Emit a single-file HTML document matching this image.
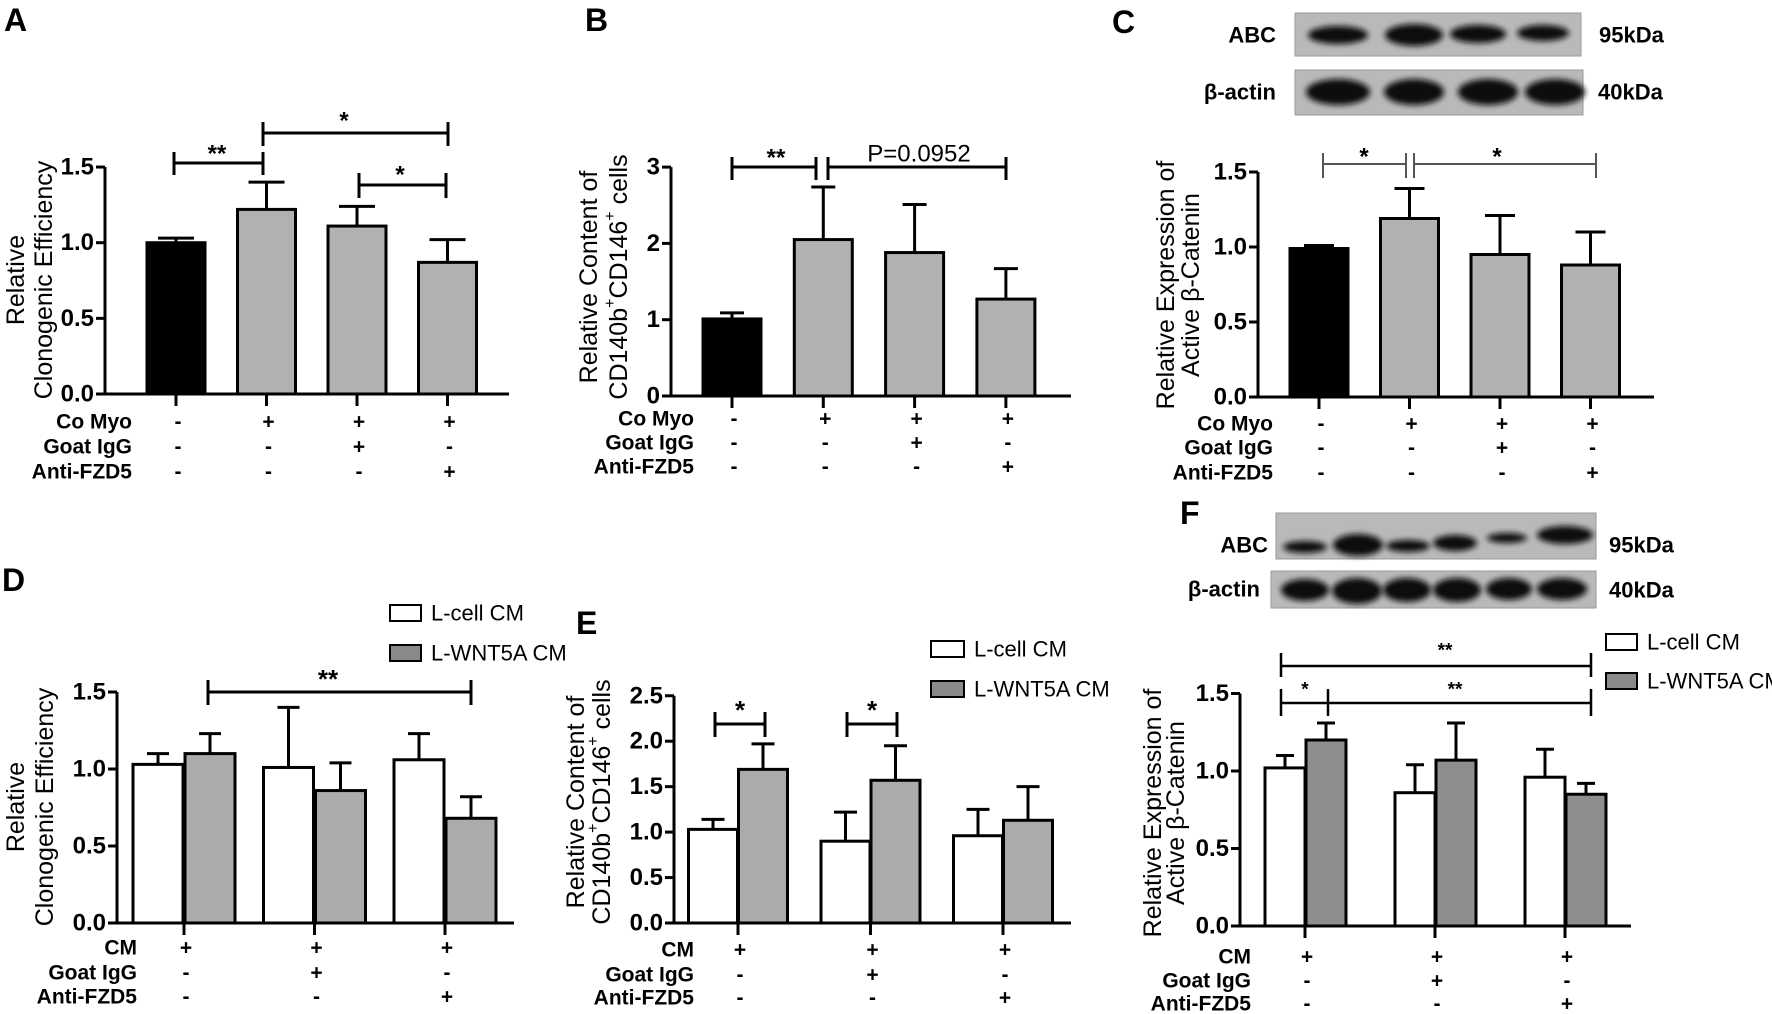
<!DOCTYPE html>
<html><head><meta charset="utf-8"><style>
html,body{margin:0;padding:0;background:#fff;}
svg{display:block;font-family:"Liberation Sans",Arial,sans-serif;}
.tk{font-weight:bold;font-size:24px;}
.rl{font-weight:bold;font-size:21px;font-family:"Liberation Sans Narrow","Liberation Sans",sans-serif;}
.yt{font-size:25px;font-weight:500;}
.pl{font-weight:bold;font-size:32px;}
</style></head><body>
<svg id="fig" width="1772" height="1014" viewBox="0 0 1772 1014" xmlns="http://www.w3.org/2000/svg">
<defs><filter id="blur" x="-20%" y="-50%" width="140%" height="200%"><feGaussianBlur stdDeviation="3"/></filter></defs>
</svg>
<script>
// ---- data ----
const catsABC = ['ctrl','coMyo','coMyoIgG','coMyoAnti'];
const aVals = [1.0, 1.22, 1.11, 0.87];
const aErrs = [1.03, 1.40, 1.24, 1.02];
const bVals = [1.01, 2.05, 1.88, 1.27];
const bErrs = [1.09, 2.74, 2.51, 1.67];
const cVals = [0.99, 1.19, 0.95, 0.88];
const cErrs = [1.01, 1.39, 1.21, 1.10];
const catsDEF = ['cm','cmIgG','cmAnti'];
const dLcell = [1.03, 1.01, 1.06];
const dLcellErr = [1.10, 1.40, 1.23];
const dWnt = [1.10, 0.86, 0.68];
const dWntErr = [1.23, 1.04, 0.82];
const eLcell = [1.03, 0.90, 0.96];
const eLcellErr = [1.14, 1.22, 1.25];
const eWnt = [1.69, 1.57, 1.13];
const eWntErr = [1.97, 1.95, 1.50];
const fLcell = [1.02, 0.86, 0.96];
const fLcellErr = [1.10, 1.04, 1.14];
const fWnt = [1.20, 1.07, 0.85];
const fWntErr = [1.31, 1.31, 0.92];
const ticksA = ['0.0','0.5','1.0','1.5'];
const ticksB = ['0','1','2','3'];
const ticksE = ['0.0','0.5','1.0','1.5','2.0','2.5'];
const rowsABC = [['Co Myo',['-','+','+','+']],['Goat IgG',['-','-','+','-']],['Anti-FZD5',['-','-','-','+']]];
const rowsDEF = [['CM',['+','+','+']],['Goat IgG',['-','+','-']],['Anti-FZD5',['-','-','+']]];

const svg = document.getElementById('fig');
const NS = 'http://www.w3.org/2000/svg';
function mk(tag, attrs, parent){const e=document.createElementNS(NS,tag);for(const k in attrs)e.setAttribute(k,attrs[k]);(parent||svg).appendChild(e);return e;}
function txt(s, attrs, parent){const e=mk('text',attrs,parent);e.textContent=s;return e;}

function panel(p){
  const g = mk('g',{});
  
  
  const y = v => p.y0 - v*p.unit;
  const x = i => p.x0 + i*p.step;
  p.series.forEach((s,si)=>{
    s.vals.forEach((v,i)=>{
      const cx = x(i) + s.off;
      const col = s.colors ? s.colors[i] : s.color;
      const r = mk('rect',{x:cx-p.bw/2,y:y(v),width:p.bw,height:y(0)-y(v),fill:col,stroke:'#000','stroke-width':3},g);
      
      
      const e = mk('path',{d:`M${cx} ${y(v)}V${y(s.errs[i])}M${cx-p.cap/2} ${y(s.errs[i])}H${cx+p.cap/2}`,stroke:'#000','stroke-width':3,fill:'none'},g);
      
      
    });
  });
  const ya = mk('line',{x1:p.ax,y1:y(0)+1.5,x2:p.ax,y2:y(p.tmax),stroke:'#000','stroke-width':3},g);
  
  
  const xa = mk('line',{x1:p.ax-8,y1:y(0),x2:p.xend,y2:y(0),stroke:'#000','stroke-width':3},g);
  
  
  p.ticks.forEach((t,i)=>{
    const v = i*p.tstep;
    mk('line',{x1:p.ax-9,y1:y(v),x2:p.ax,y2:y(v),stroke:'#000','stroke-width':3},g);
    const tl = txt(t,{x:p.ax-11,y:y(v),'text-anchor':'end','dominant-baseline':'central',class:'tk'},g);
    
    
  });
  p.cats.forEach((c,i)=>{
    mk('line',{x1:x(i),y1:y(0),x2:x(i),y2:y(0)+12,stroke:'#000','stroke-width':3},g);
  });
  p.rows.forEach((r,ri)=>{
    const ry = p.rowY[ri];
    const rl = txt(r[0],{x:p.rowX,y:ry,'text-anchor':'end','dominant-baseline':'central',class:'rl'},g);
    
    
    r[1].forEach((s,i)=>{
      txt(s,{x:x(i)+2,y:ry,'text-anchor':'middle','dominant-baseline':'central',class:'rl'},g);
    });
  });
  const tg = mk('g',{transform:`translate(${p.tx[0]},${p.ty}) rotate(-90)`},g);
  
  
  p.title.forEach((line,li)=>{
    const t = mk('text',{x:0,y:p.tx[li]-p.tx[0],'text-anchor':'middle','dominant-baseline':'central',class:'yt'},tg);
    line.forEach(part=>{
      const ts = mk('tspan',part[1]?{'font-size':16,'baseline-shift':'super'}:{},t);
      ts.textContent = part[0];
    });
  });
  (p.br||[]).forEach(b=>{
    const sw = b.sw||3, col = b.col||'#000';
    const bp = mk('path',{d:`M${b.x1} ${b.t}V${b.b}M${b.x2} ${b.t}V${b.b}M${b.x1} ${b.y}H${b.x2}`+(b.mid?`M${b.mid} ${b.t}V${b.b}`:''),stroke:col,'stroke-width':sw,fill:'none'},g);
    
    
    b.labels.forEach(l=>{
      const lt = txt(l[0],{x:l[1],y:l[2],'text-anchor':'middle','dominant-baseline':'central','font-size':l[3]||24,'font-weight':l[4]||'bold'},g);
      
      
    });
  });
  if(p.leg){
    p.leg.forEach(L=>{
      const lr = mk('rect',{x:L.x,y:L.y-8,width:L.w,height:16,fill:L.fill,stroke:'#000','stroke-width':2},g);
      
      
      const lt = txt(L.t,{x:L.x+L.w+10,y:L.y,'dominant-baseline':'central','font-size':22,'font-family':'"Liberation Sans Narrow","Liberation Sans",sans-serif'},g);
      
      
    });
  }
  const pl = txt(p.letter,{x:p.lx,y:p.ly,'dominant-baseline':'central',class:'pl'},g);
  
  
}

const GRAY='#b1b1b1', DG='#8e8e8e', LG='#ababab';
const cdTitle = [[['Relative Content of',0]],[['CD140b',0],['+',1],['CD146',0],['+',1],[' cells',0]]];
const betaTitle = [[['Relative Expression of',0]],[['Active β-Catenin',0]]];
const cloTitle = [[['Relative',0]],[['Clonogenic Efficiency',0]]];

panel({name:'panel-a',letter:'A',lx:4,ly:20,cats:catsABC,x0:176,step:90.5,bw:58,cap:36,ax:105,xend:509,y0:394,unit:151.3,ticks:ticksA,tstep:0.5,tmax:1.5,
  series:[{key:'main',vals:aVals,errs:aErrs,off:0,colors:['#000',GRAY,GRAY,GRAY]}],
  rows:rowsABC,rowY:[422,447,472],rowX:132,title:cloTitle,tx:[16,44],ty:280,
  br:[{x1:174,x2:263,y:163,t:152,b:175,labels:[['**',217,154]]},
      {x1:263,x2:448,y:133,t:122,b:146,labels:[['*',344,121]]},
      {x1:359,x2:446,y:185,t:173,b:198,labels:[['*',400,175]]}]});

panel({name:'panel-b',letter:'B',lx:585,ly:20,cats:catsABC,x0:732,step:91.3,bw:58,cap:24,ax:671,xend:1071,y0:396,unit:76.3,ticks:ticksB,tstep:1,tmax:3,
  series:[{key:'main',vals:bVals,errs:bErrs,off:0,colors:['#000',GRAY,GRAY,GRAY]}],
  rows:rowsABC,rowY:[419,443,467],rowX:694,title:cdTitle,tx:[589,619],ty:277,
  br:[{x1:732,x2:816,y:167,t:157,b:180,labels:[['**',776,158]]},
      {x1:828,x2:1006,y:167,t:157,b:180,labels:[['P=0.0952',919,154,24,'normal']]}]});

panel({name:'panel-c',letter:'C',lx:1112,ly:22,cats:catsABC,x0:1319,step:90.5,bw:58,cap:30,ax:1258,xend:1654,y0:397,unit:150,ticks:ticksA,tstep:0.5,tmax:1.5,
  series:[{key:'main',vals:cVals,errs:cErrs,off:0,colors:['#000',GRAY,GRAY,GRAY]}],
  rows:rowsABC,rowY:[424,448,473],rowX:1273,title:betaTitle,tx:[1166,1191],ty:285,
  br:[{x1:1323,x2:1406,y:164,t:153,b:178,sw:2,col:'#555',labels:[['*',1364,157]]},
      {x1:1414,x2:1596,y:164,t:153,b:178,sw:2,col:'#555',labels:[['*',1497,157]]}]});

panel({name:'panel-d',letter:'D',lx:2,ly:580,cats:catsDEF,x0:184,step:130.5,bw:50,cap:22,ax:117,xend:514,y0:923,unit:154,ticks:ticksA,tstep:0.5,tmax:1.5,
  series:[{key:'lcell',vals:dLcell,errs:dLcellErr,off:-26,color:'#fff'},{key:'wnt5a',vals:dWnt,errs:dWntErr,off:26,color:LG}],
  rows:rowsDEF,rowY:[948,973,997],rowX:137,title:cloTitle,tx:[16,45],ty:807,
  br:[{x1:208,x2:471,y:692,t:680,b:705,labels:[['**',328,679,26]]}],
  leg:[{x:390,y:613,w:31,fill:'#fff',t:'L-cell CM'},{x:390,y:653,w:31,fill:'#8a8a8a',t:'L-WNT5A  CM'}]});

panel({name:'panel-e',letter:'E',lx:576,ly:623,cats:catsDEF,x0:738,step:132.5,bw:49,cap:23,ax:674,xend:1071,y0:923,unit:90.9,ticks:ticksE,tstep:0.5,tmax:2.5,
  series:[{key:'lcell',vals:eLcell,errs:eLcellErr,off:-25,color:'#fff'},{key:'wnt5a',vals:eWnt,errs:eWntErr,off:25,color:LG}],
  rows:rowsDEF,rowY:[950,975,998],rowX:694,title:cdTitle,tx:[576,602],ty:802,
  br:[{x1:715,x2:765,y:724,t:712,b:737,labels:[['*',740,710,26]]},
      {x1:847,x2:897,y:724,t:712,b:737,labels:[['*',872,710,26]]}],
  leg:[{x:931,y:649,w:33,fill:'#fff',t:'L-cell CM'},{x:931,y:689,w:33,fill:'#8a8a8a',t:'L-WNT5A  CM'}]});

panel({name:'panel-f',letter:'F',lx:1180,ly:513,cats:catsDEF,x0:1305,step:130,bw:40,cap:18,ax:1240,xend:1631,y0:926,unit:155,ticks:ticksA,tstep:0.5,tmax:1.5,
  series:[{key:'lcell',vals:fLcell,errs:fLcellErr,off:-20,color:'#fff'},{key:'wnt5a',vals:fWnt,errs:fWntErr,off:21,color:DG}],
  rows:rowsDEF,rowY:[957,981,1004],rowX:1251,title:betaTitle,tx:[1153,1176],ty:813,
  br:[{x1:1281,x2:1591,y:666,t:653,b:677,sw:2.5,labels:[['**',1445,651,19]]},
      {x1:1281,x2:1591,y:703,t:689,b:716,mid:1328,sw:2.5,labels:[['*',1305,690,19],['**',1455,690,19]]}],
  leg:[{x:1606,y:642,w:31,fill:'#fff',t:'L-cell CM'},{x:1606,y:681,w:31,fill:'#8a8a8a',t:'L-WNT5A  CM'}]});

function blot(name, x, y, w, h, bands){
  const g = mk('g',{});
  
  
  mk('rect',{x:x,y:y,width:w,height:h,fill:'#b9b9b9',stroke:'#9a9a9a','stroke-width':1},g);
  bands.forEach(b=>{
    mk('ellipse',{cx:b[0],cy:b[1],rx:b[2],ry:b[3],fill:'#111',filter:'url(#blur)'},g);
  });
}
function blotLabel(s,x,y,anchor){
  const t = txt(s,{x:x,y:y,'text-anchor':anchor,'dominant-baseline':'central','font-weight':'bold','font-size':22,'font-family':'"Liberation Sans Narrow","Liberation Sans",sans-serif'});
  
  
}
blot('panel-c-abc-blot',1295,13,286,43,[[1338,35,30,9],[1414,35,29,11],[1478,34,28,9],[1543,33,26,8]]);
blot('panel-c-actin-blot',1295,70,288,45,[[1338,92,32,13],[1414,92,30,13],[1488,92,30,13],[1555,92,30,13]]);
blotLabel('ABC',1276,35,'end');blotLabel('β-actin',1276,92,'end');
blotLabel('95kDa',1599,35,'start');blotLabel('40kDa',1598,92,'start');
blot('panel-f-abc-blot',1276,513,320,46,[[1305,547,22,6],[1358,545,25,11],[1408,546,22,6],[1455,543,22,8],[1507,538,20,5],[1565,535,28,9]]);
blot('panel-f-actin-blot',1271,571,325,37,[[1305,590,24,11],[1357,591,25,13],[1407,590,24,12],[1457,590,24,12],[1509,589,23,11],[1562,589,25,11]]);
blotLabel('ABC',1268,545,'end');blotLabel('β-actin',1260,589,'end');
blotLabel('95kDa',1609,545,'start');blotLabel('40kDa',1609,590,'start');
</script>
</body></html>
